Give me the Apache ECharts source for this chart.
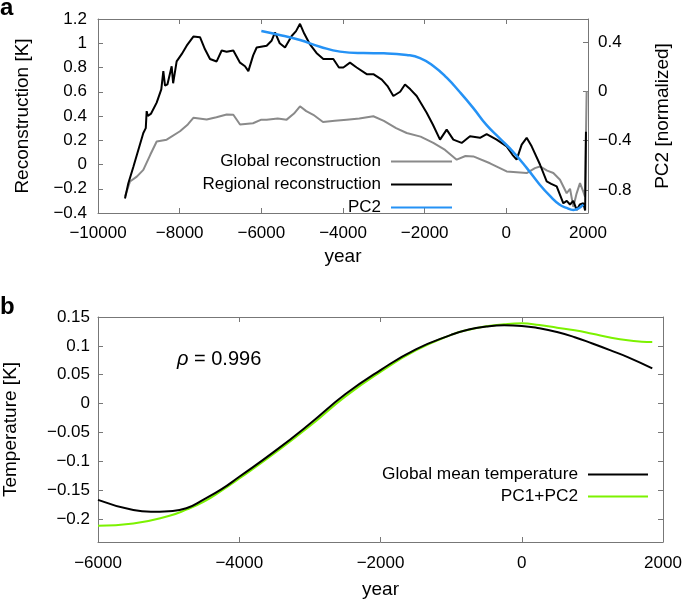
<!DOCTYPE html>
<html><head><meta charset="utf-8">
<script src="https://cdn.jsdelivr.net/npm/echarts@6/dist/echarts.min.js"></script>
<style>html,body{margin:0;padding:0;background:#fff}#c{width:685px;height:600px}</style>
</head><body><div id="c"></div>
<script>
// ---------- Panel a ----------
const globalYears = [-9339,-9216,-9050,-8890,-8720,-8563,-8318,-7992,-7800,-7665,-7338,-7100,-6849,-6686,-6522,-6204,-6000,-5869,-5600,-5380,-5200,-5053,-4900,-4727,-4490,-4200,-3910,-3600,-3257,-3000,-2700,-2440,-2100,-1788,-1500,-1216,-1000,-808,-400,8,498,700,824,1000,1151,1314,1478,1560,1641,1720,1804,1880,1927,1967];
const globalVals  = [-0.265,-0.14,-0.10,-0.044,0.08,0.19,0.205,0.274,0.33,0.385,0.371,0.39,0.412,0.41,0.33,0.34,0.37,0.37,0.38,0.37,0.42,0.48,0.44,0.41,0.35,0.36,0.37,0.38,0.398,0.36,0.30,0.26,0.23,0.178,0.12,0.04,0.07,0.067,0.01,-0.057,-0.071,-0.03,-0.016,-0.05,-0.07,-0.126,-0.237,-0.20,-0.35,-0.24,-0.154,-0.22,-0.265,0.606];

const regionalYears = [-9339,-9257,-9135,-8890,-8830,-8808,-8780,-8700,-8563,-8450,-8400,-8359,-8300,-8196,-8160,-8074,-7951,-7828,-7665,-7502,-7380,-7257,-7094,-6971,-6850,-6686,-6522,-6400,-6318,-6200,-6114,-5869,-5750,-5665,-5550,-5420,-5257,-5150,-5053,-4950,-4808,-4650,-4482,-4237,-4100,-3992,-3829,-3665,-3420,-3257,-3050,-2910,-2767,-2600,-2482,-2350,-2196,-1951,-1800,-1624,-1461,-1298,-1094,-890,-645,-482,-237,8,150,253,376,498,620,824,988,1100,1233,1396,1480,1559,1640,1722,1800,1886,1930,1950];
const regionalVals  = [-0.28,-0.155,-0.02,0.26,0.30,0.44,0.40,0.42,0.51,0.62,0.77,0.65,0.66,0.81,0.67,0.85,0.91,0.98,1.055,1.05,0.95,0.87,0.85,0.94,0.93,0.94,0.84,0.81,0.77,0.90,0.965,0.98,1.02,1.09,1.00,0.965,1.06,1.10,1.16,1.08,0.99,0.92,0.87,0.87,0.80,0.80,0.84,0.80,0.745,0.745,0.70,0.647,0.565,0.60,0.66,0.62,0.565,0.427,0.33,0.205,0.288,0.205,0.178,0.233,0.22,0.25,0.205,0.15,0.08,0.04,0.164,0.22,0.15,0.00,-0.14,-0.16,-0.18,-0.32,-0.30,-0.33,-0.30,-0.375,-0.33,-0.32,-0.38,0.27];

const pc2Years = [-6000,-5500,-5053,-4563,-4073,-3500,-3000,-2440,-2114,-1788,-1461,-1135,-808,-482,-155,171,498,824,1069,1300,1478,1641,1760,1886];
const pc2Vals  = [0.488,0.452,0.415,0.361,0.321,0.309,0.307,0.294,0.269,0.205,0.11,-0.008,-0.136,-0.274,-0.383,-0.492,-0.62,-0.758,-0.847,-0.916,-0.944,-0.960,-0.950,-0.916];

const pc2Ticks = [-0.8,-0.4,0,0.4];

// ---------- Panel b ----------
const gmtYears = [-6000,-5500,-5250,-5000,-4750,-4500,-4250,-4000,-3500,-3000,-2500,-2000,-1500,-1000,-750,-500,-250,0,250,500,750,1000,1250,1500,1848];
const gmtVals  = [-0.167,-0.1846,-0.1875,-0.1865,-0.1815,-0.166,-0.1485,-0.127,-0.083,-0.035,0.016,0.058,0.094,0.119,0.1285,0.1335,0.1355,0.1345,0.1305,0.124,0.115,0.104,0.0925,0.0805,0.061];
const pcSumYears = [-6000,-5500,-5000,-4750,-4500,-4250,-4000,-3500,-3000,-2500,-2000,-1500,-1000,-750,-500,-250,0,250,500,750,1000,1250,1500,1700,1848];
const pcSumVals  = [-0.212,-0.208,-0.195,-0.184,-0.170,-0.151,-0.130,-0.086,-0.039,0.012,0.055,0.092,0.119,0.128,0.134,0.1375,0.139,0.136,0.1315,0.127,0.121,0.1145,0.1095,0.1072,0.1066];
const tempTicks = [-0.2,-0.15,-0.1,-0.05,0,0.05,0.1,0.15];

const zip = (xs, ys) => xs.map((x, i) => [x, ys[i]]);
const FONT = "'Liberation Sans', Arial, Helvetica, sans-serif";
const AX = '#777';
const fmt = v => String(+(+v).toFixed(2)).replace('-', '\u2212');

function xAx(grid, pos, min, max, labels, name, gap, margin) {
  return {
    type: 'value', gridIndex: grid, position: pos, min: min, max: max, interval: 2000,
    axisLine: { show: true, onZero: false, lineStyle: { color: AX, width: 1 } },
    axisTick: { show: true, inside: true, length: 5, lineStyle: { color: AX } },
    axisLabel: { show: labels, color: '#000', fontSize: 17, fontFamily: FONT, margin: margin || 9, formatter: fmt },
    splitLine: { show: false },
    name: name || '', nameLocation: 'middle', nameGap: gap || 0,
    nameTextStyle: { color: '#000', fontSize: 19, fontFamily: FONT }
  };
}
function yAx(grid, pos, min, max, opt) {
  const a = {
    type: 'value', gridIndex: grid, position: pos, min: min, max: max,
    axisLine: { show: true, onZero: false, lineStyle: { color: AX, width: 1 } },
    axisTick: { show: true, inside: true, length: 5, lineStyle: { color: AX } },
    axisLabel: { show: opt.labels, color: '#000', fontSize: 17, fontFamily: FONT, margin: opt.margin || 10, formatter: fmt },
    splitLine: { show: false },
    name: opt.name || '', nameLocation: 'middle', nameGap: opt.gap || 0, nameRotate: 90,
    nameTextStyle: { color: '#000', fontSize: 19, fontFamily: FONT }
  };
  if (opt.interval) a.interval = opt.interval;
  if (opt.custom) { a.axisTick.customValues = opt.custom; a.axisLabel.customValues = opt.custom; }
  return a;
}

const chart = echarts.init(document.getElementById('c'), null, { renderer: 'canvas' });
chart.setOption({
  animation: false,
  backgroundColor: '#fff',
  textStyle: { fontFamily: FONT },
  grid: [
    { left: 98, right: 97, top: 19, height: 194, outerBoundsMode: 'none' },
    { left: 98, right: 22, top: 317, height: 225, outerBoundsMode: 'none' }
  ],
  xAxis: [
    xAx(0, 'bottom', -10000, 2000, true, 'year', 34, 12),
    xAx(0, 'top', -10000, 2000, false),
    xAx(1, 'bottom', -6000, 2000, true, 'year', 38, 13),
    xAx(1, 'top', -6000, 2000, false)
  ],
  yAxis: [
    yAx(0, 'left', -0.4, 1.2, { labels: true, interval: 0.2, name: 'Reconstruction [K]', gap: 66, margin: 11 }),
    yAx(0, 'right', -0.985, 0.585, { labels: true, custom: pc2Ticks, name: 'PC2 [normalized]', gap: 65, margin: 10 }),
    yAx(1, 'left', -0.24, 0.15, { labels: true, custom: tempTicks, name: 'Temperature [K]', gap: 78, margin: 8 }),
    yAx(1, 'right', -0.24, 0.15, { labels: false, custom: tempTicks })
  ],
  legend: [
    {
      data: ['Global reconstruction', 'Regional reconstruction', 'PC2'],
      orient: 'vertical', align: 'right', right: 233, top: 153, padding: 0,
      itemWidth: 61, itemHeight: 2, itemGap: 6, icon: 'rect',
      textStyle: { color: '#000', fontSize: 17, fontFamily: FONT, padding: [0, 5, 0, 0] }
    },
    {
      data: ['Global mean temperature', 'PC1+PC2'],
      orient: 'vertical', align: 'right', right: 37, top: 466, padding: 0,
      itemWidth: 60, itemHeight: 2, itemGap: 5, icon: 'rect',
      textStyle: { color: '#000', fontSize: 17.3, fontFamily: FONT, padding: [0, 5, 0, 0] }
    }
  ],
  series: [
    { name: 'Global reconstruction', type: 'line', xAxisIndex: 0, yAxisIndex: 0, data: zip(globalYears, globalVals),
      showSymbol: false, symbol: 'none', color: '#8a8a8a', lineStyle: { width: 2, color: '#8a8a8a' }, z: 2 },
    { name: 'Regional reconstruction', type: 'line', xAxisIndex: 0, yAxisIndex: 0, data: zip(regionalYears, regionalVals),
      showSymbol: false, symbol: 'none', color: '#000', lineStyle: { width: 2, color: '#000' }, z: 3 },
    { name: 'PC2', type: 'line', xAxisIndex: 0, yAxisIndex: 1, data: zip(pc2Years, pc2Vals), smooth: true,
      showSymbol: false, symbol: 'none', color: '#2592f5', lineStyle: { width: 2.5, color: '#2592f5' }, z: 4 },
    { name: 'Global mean temperature', type: 'line', xAxisIndex: 2, yAxisIndex: 2, data: zip(gmtYears, gmtVals), smooth: true,
      showSymbol: false, symbol: 'none', color: '#000', lineStyle: { width: 2, color: '#000' }, z: 4 },
    { name: 'PC1+PC2', type: 'line', xAxisIndex: 2, yAxisIndex: 2, data: zip(pcSumYears, pcSumVals), smooth: true,
      showSymbol: false, symbol: 'none', color: '#7cf200', lineStyle: { width: 2, color: '#7cf200' }, z: 3 }
  ],
  graphic: [
    { type: 'text', left: 0, top: -4, style: { text: 'a', font: "bold 24px " + FONT, fill: '#000' } },
    { type: 'text', left: 0, top: 295, style: { text: 'b', font: "bold 24px " + FONT, fill: '#000' } },
    { type: 'text', left: 177, top: 349, style: {
        text: '{i|\u03c1} = 0.996', font: "20px " + FONT, fill: '#000',
        rich: { i: { fontStyle: 'italic', fontSize: 20, fontFamily: FONT } } } }
  ]
});
</script>
</body></html>
